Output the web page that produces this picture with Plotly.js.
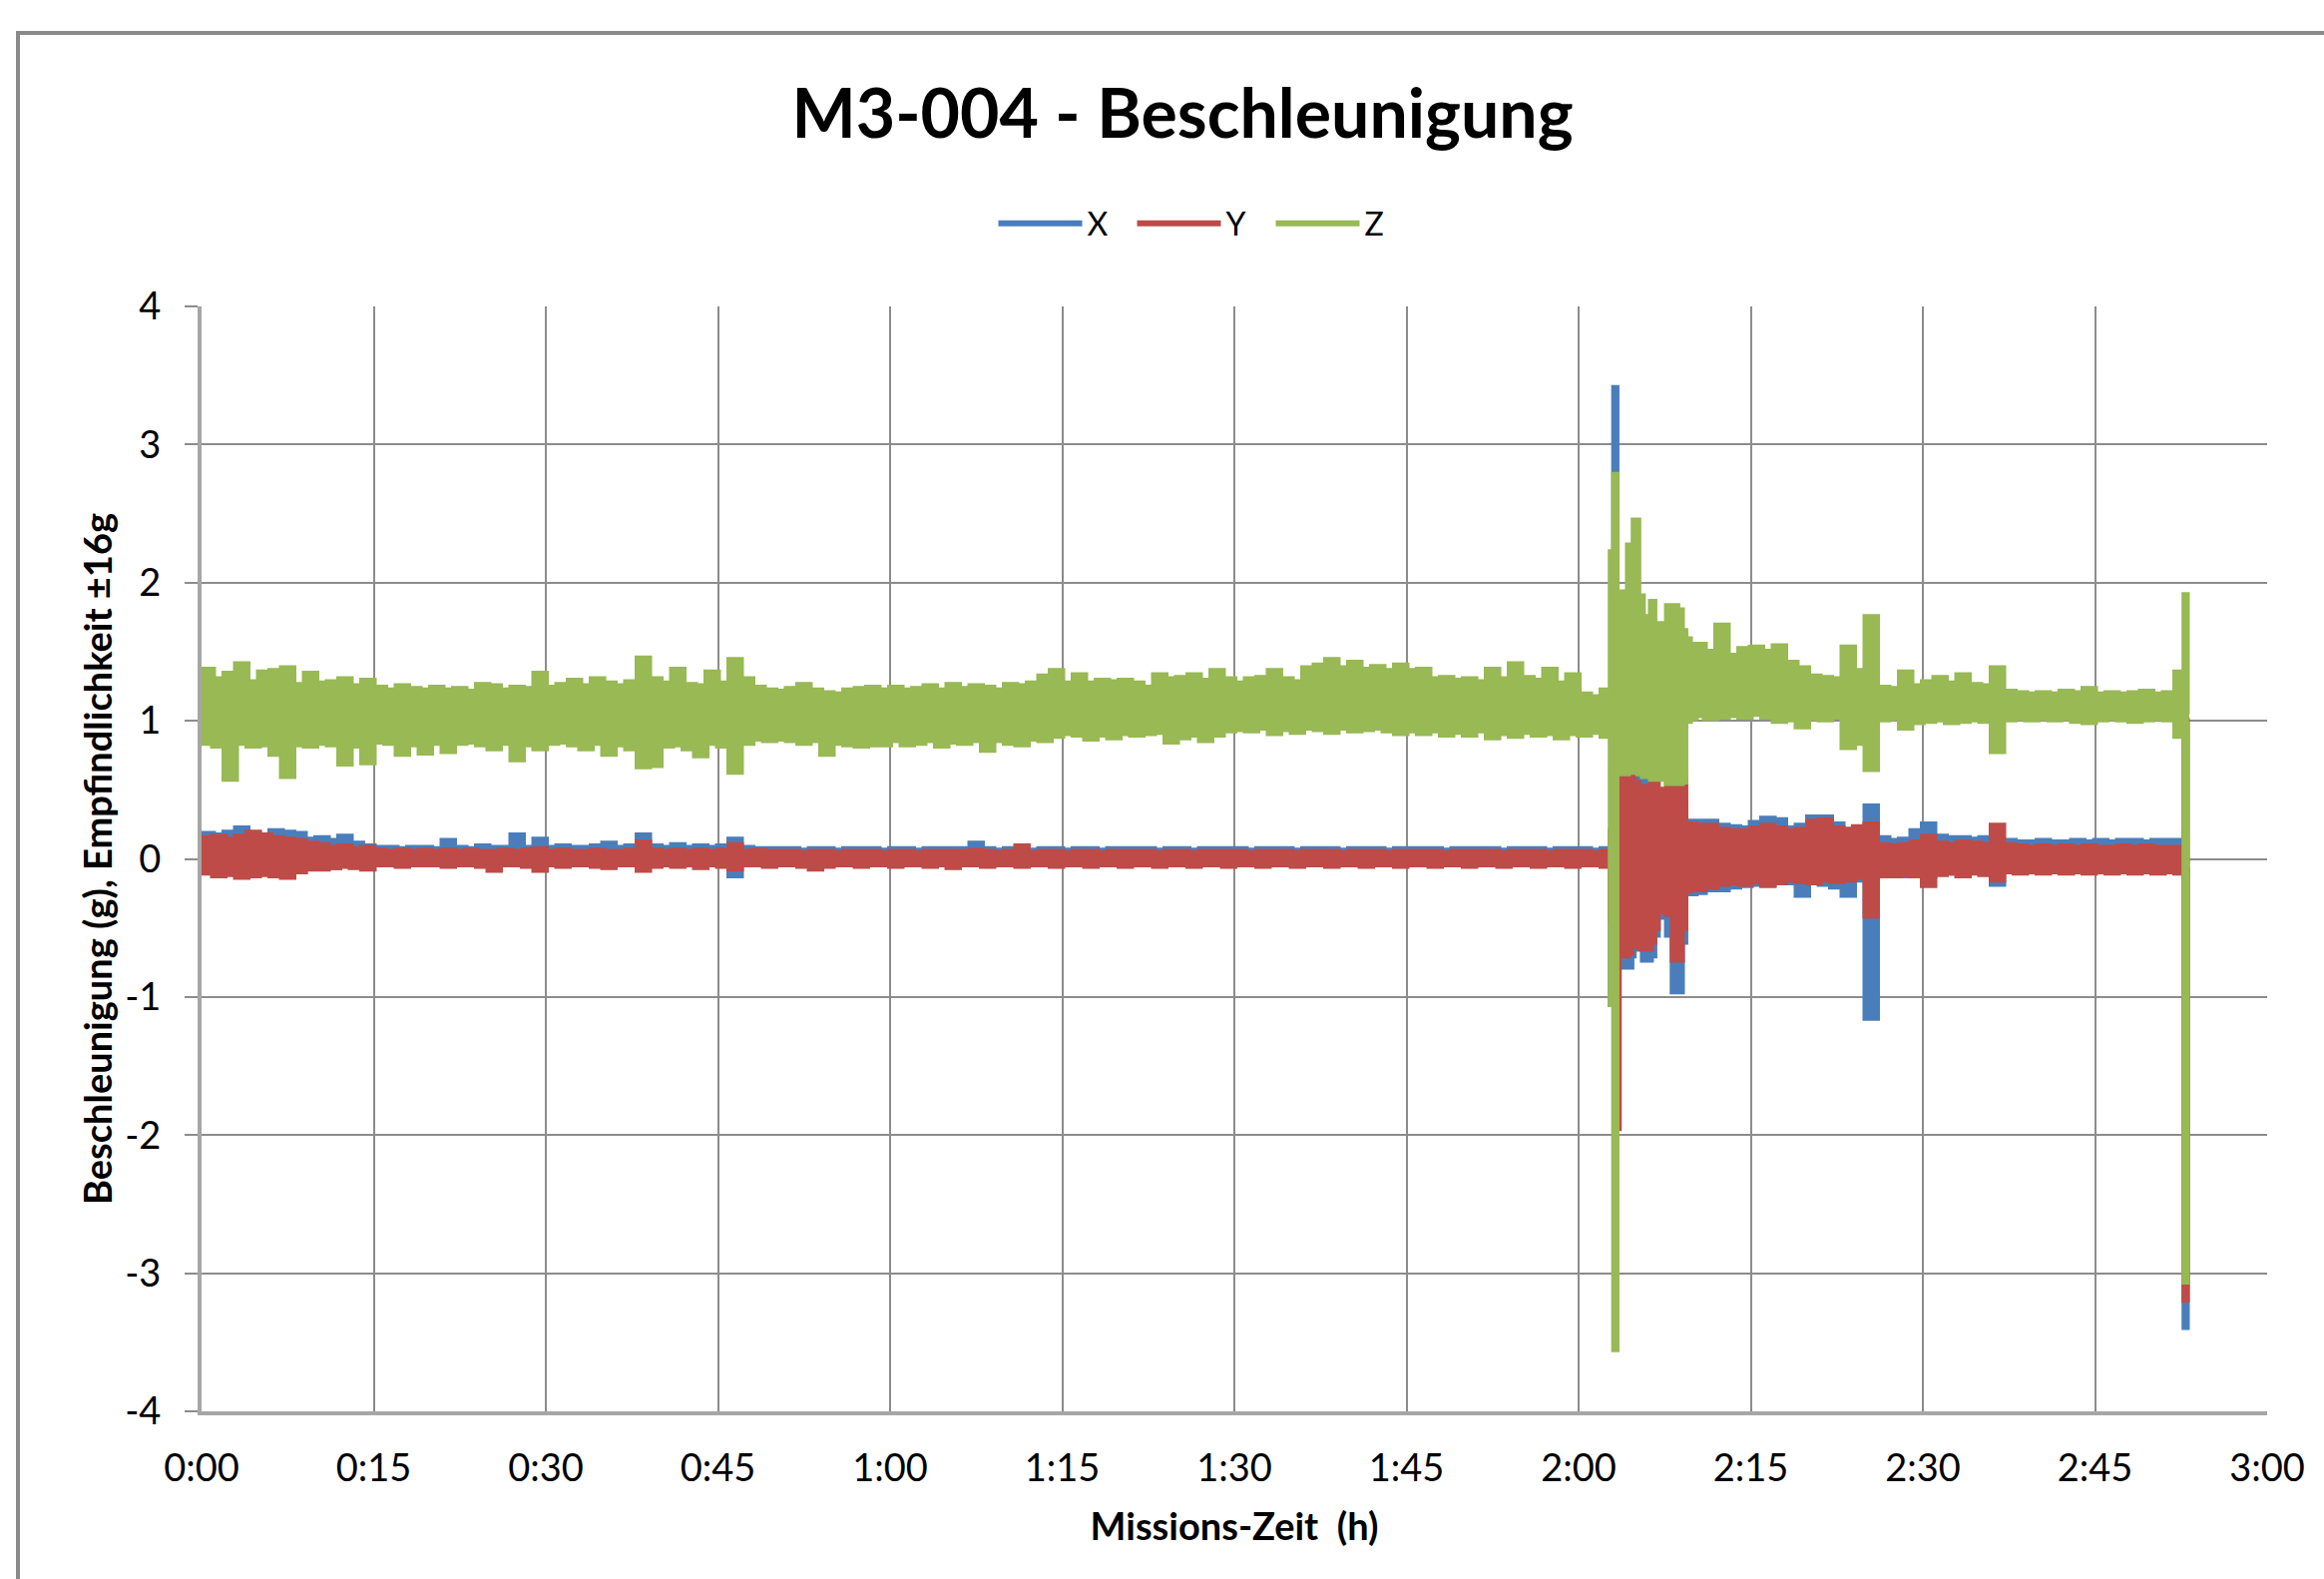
<!DOCTYPE html>
<html>
<head>
<meta charset="utf-8">
<script src="https://cdn.plot.ly/plotly-3.0.1.min.js"></script>
<style>
  html, body { margin: 0; padding: 0; background: #ffffff; }
  #chart { width: 2329px; height: 1582px; }
</style>
</head>
<body>
<div id="chart"></div>
<script>
// ---- Data ----
// Mission time in minutes; each series is given as its min/max envelope per sample.
const timeMin = [
  0,1,2,3,4,5,6,7,8,9,
  10,11,12,13,14,15,16,17,18,19,
  20,21,22,23,24,25,26,27,28,29,
  30,31,32,33,34,35,36,37,38,39,
  40,41,42,43,44,45,46,47,48,49,
  50,51,52,53,54,55,56,57,58,59,
  60,61,62,63,64,65,66,67,68,69,
  70,71,72,73,74,75,76,77,78,79,
  80,81,82,83,84,85,86,87,88,89,
  90,91,92,93,94,95,96,97,98,99,
  100,101,102,103,104,105,106,107,108,109,
  110,111,112,113,114,115,116,117,118,119,
  120,121,122,
  122.5,122.8,123.1,123.3,123.5,124.0,124.3,124.6,124.8,125.2,125.6,126.0,126.3,126.6,126.9,127.3,127.7,128.2,128.6,129.0,129.3,129.7,130.2,
  131,132,133,134,135,136,137,138,139,140,
  141,142,143,144,145,146,147,148,149,150,
  151,152,153,154,155,156,157,158,159,160,
  161,162,163,164,165,166,167,168,169,170,
  171,172,
  172.5,172.8,173.0,173.2
];

const xHigh = [
  0.18,0.17,0.19,0.22,0.18,0.17,0.20,0.19,0.18,0.14,
  0.15,0.13,0.16,0.11,0.09,0.08,0.08,0.07,0.08,0.08,
  0.07,0.13,0.08,0.07,0.09,0.08,0.08,0.17,0.08,0.14,
  0.08,0.09,0.08,0.08,0.09,0.11,0.08,0.09,0.17,0.09,
  0.08,0.10,0.08,0.09,0.08,0.09,0.14,0.08,0.07,0.07,
  0.07,0.07,0.06,0.07,0.07,0.06,0.07,0.07,0.07,0.06,
  0.07,0.07,0.06,0.07,0.07,0.07,0.07,0.11,0.07,0.06,
  0.07,0.07,0.06,0.07,0.07,0.06,0.07,0.07,0.06,0.07,
  0.07,0.07,0.07,0.06,0.07,0.07,0.06,0.07,0.07,0.07,
  0.07,0.06,0.07,0.07,0.07,0.06,0.07,0.07,0.07,0.06,
  0.07,0.07,0.07,0.06,0.07,0.07,0.07,0.07,0.06,0.07,
  0.07,0.07,0.07,0.06,0.07,0.07,0.07,0.06,0.07,0.07,
  0.07,0.06,0.07,
  0.07,0.07,3.41,0.59,0.59,0.59,0.59,0.55,0.59,0.58,0.58,0.56,0.55,0.50,0.46,0.46,0.46,0.50,0.48,0.40,0.27,0.27,0.27,
  0.27,0.24,0.23,0.22,0.26,0.29,0.28,0.22,0.24,0.30,
  0.30,0.25,0.21,0.20,0.38,0.15,0.13,0.14,0.20,0.25,
  0.16,0.15,0.15,0.14,0.15,0.13,0.13,0.12,0.12,0.13,
  0.12,0.12,0.13,0.12,0.13,0.12,0.13,0.13,0.12,0.13,
  0.13,0.13,
  0.13,0.20,0.20,0.20
];
const xLow = [
  -0.08,-0.09,-0.10,-0.09,-0.10,-0.08,-0.11,-0.10,-0.09,-0.06,
  -0.05,-0.06,-0.04,-0.05,-0.04,-0.02,-0.02,-0.02,-0.02,-0.02,
  -0.02,-0.02,-0.02,-0.02,-0.02,-0.02,-0.02,-0.02,-0.02,-0.02,
  -0.02,-0.02,-0.02,-0.02,-0.02,-0.02,-0.02,-0.02,-0.04,-0.02,
  -0.02,-0.02,-0.02,-0.02,-0.02,-0.02,-0.12,-0.02,-0.02,-0.02,
  -0.02,-0.02,-0.02,-0.02,-0.02,-0.02,-0.02,-0.02,-0.02,-0.02,
  -0.02,-0.02,-0.02,-0.02,-0.02,-0.02,-0.02,-0.02,-0.02,-0.02,
  -0.02,-0.02,-0.02,-0.02,-0.02,-0.02,-0.02,-0.02,-0.02,-0.02,
  -0.02,-0.02,-0.02,-0.02,-0.02,-0.02,-0.02,-0.02,-0.02,-0.02,
  -0.02,-0.02,-0.02,-0.02,-0.02,-0.02,-0.02,-0.02,-0.02,-0.02,
  -0.02,-0.02,-0.02,-0.02,-0.02,-0.02,-0.02,-0.02,-0.02,-0.02,
  -0.02,-0.02,-0.02,-0.02,-0.02,-0.02,-0.02,-0.02,-0.02,-0.02,
  -0.02,-0.02,-0.02,
  -0.02,-1.05,-0.70,-0.78,-0.78,-0.78,-0.78,-0.70,-0.65,-0.65,-0.73,-0.73,-0.70,-0.55,-0.40,-0.42,-0.55,-0.96,-0.96,-0.60,-0.25,-0.25,-0.24,
  -0.22,-0.22,-0.20,-0.19,-0.18,-0.18,-0.17,-0.17,-0.26,-0.16,
  -0.18,-0.20,-0.26,-0.15,-1.15,-0.12,-0.11,-0.12,-0.11,-0.12,
  -0.10,-0.10,-0.09,-0.09,-0.10,-0.18,-0.08,-0.08,-0.08,-0.08,
  -0.08,-0.08,-0.08,-0.08,-0.08,-0.08,-0.08,-0.08,-0.08,-0.08,
  -0.08,-0.08,
  -0.08,-3.39,0.00,0.00
];

const yHigh = [
  0.15,0.16,0.14,0.16,0.19,0.17,0.15,0.14,0.13,0.11,
  0.10,0.08,0.09,0.07,0.08,0.06,0.05,0.06,0.05,0.06,
  0.05,0.06,0.05,0.06,0.05,0.05,0.06,0.05,0.06,0.07,
  0.05,0.06,0.05,0.05,0.06,0.05,0.05,0.06,0.12,0.06,
  0.05,0.06,0.05,0.06,0.05,0.06,0.10,0.05,0.06,0.05,
  0.05,0.05,0.04,0.05,0.05,0.04,0.05,0.05,0.05,0.04,
  0.05,0.05,0.04,0.05,0.05,0.05,0.05,0.06,0.05,0.04,
  0.05,0.09,0.04,0.05,0.05,0.04,0.05,0.05,0.04,0.05,
  0.05,0.05,0.05,0.04,0.05,0.05,0.04,0.05,0.05,0.05,
  0.05,0.04,0.05,0.05,0.05,0.04,0.05,0.05,0.05,0.04,
  0.05,0.05,0.05,0.04,0.05,0.05,0.05,0.05,0.04,0.05,
  0.05,0.05,0.05,0.04,0.05,0.05,0.05,0.04,0.05,0.05,
  0.05,0.04,0.05,
  0.05,0.20,0.50,0.64,0.64,0.65,0.65,0.78,0.55,0.52,0.50,0.52,0.55,0.62,0.50,0.46,0.55,0.91,0.60,0.58,0.25,0.25,0.24,
  0.24,0.21,0.20,0.20,0.22,0.24,0.22,0.20,0.21,0.27,
  0.28,0.22,0.21,0.23,0.25,0.10,0.09,0.10,0.12,0.16,
  0.11,0.10,0.12,0.11,0.10,0.24,0.10,0.09,0.08,0.09,
  0.08,0.09,0.08,0.09,0.08,0.08,0.09,0.08,0.09,0.08,
  0.08,0.08,
  0.08,1.00,-0.02,-0.02
];
const yLow = [
  -0.10,-0.12,-0.11,-0.13,-0.12,-0.11,-0.12,-0.13,-0.09,-0.07,
  -0.07,-0.06,-0.05,-0.06,-0.07,-0.04,-0.04,-0.05,-0.04,-0.04,
  -0.04,-0.05,-0.04,-0.04,-0.05,-0.08,-0.04,-0.04,-0.05,-0.08,
  -0.04,-0.05,-0.04,-0.04,-0.05,-0.06,-0.04,-0.04,-0.08,-0.05,
  -0.04,-0.05,-0.04,-0.06,-0.04,-0.05,-0.07,-0.04,-0.04,-0.05,
  -0.04,-0.04,-0.05,-0.07,-0.05,-0.04,-0.04,-0.05,-0.04,-0.04,
  -0.05,-0.04,-0.04,-0.05,-0.04,-0.06,-0.04,-0.04,-0.05,-0.04,
  -0.04,-0.05,-0.04,-0.04,-0.05,-0.04,-0.04,-0.05,-0.04,-0.04,
  -0.05,-0.04,-0.04,-0.05,-0.04,-0.04,-0.05,-0.04,-0.04,-0.05,
  -0.04,-0.04,-0.05,-0.04,-0.04,-0.05,-0.04,-0.04,-0.05,-0.04,
  -0.04,-0.05,-0.04,-0.04,-0.05,-0.04,-0.04,-0.05,-0.04,-0.04,
  -0.05,-0.04,-0.04,-0.05,-0.04,-0.04,-0.05,-0.04,-0.04,-0.05,
  -0.04,-0.04,-0.05,
  -0.04,-0.45,-0.70,-1.95,-0.70,-0.70,-0.68,-0.62,-0.62,-0.64,-0.65,-0.65,-0.60,-0.50,-0.38,-0.38,-0.40,-0.73,-0.73,-0.50,-0.23,-0.22,-0.22,
  -0.20,-0.18,-0.17,-0.18,-0.16,-0.19,-0.17,-0.15,-0.16,-0.17,
  -0.15,-0.16,-0.15,-0.13,-0.41,-0.12,-0.12,-0.11,-0.12,-0.19,
  -0.11,-0.10,-0.12,-0.10,-0.11,-0.15,-0.09,-0.10,-0.09,-0.10,
  -0.09,-0.10,-0.09,-0.10,-0.09,-0.10,-0.09,-0.10,-0.09,-0.10,
  -0.09,-0.10,
  -0.10,-3.19,-0.06,-0.06
];

const zHigh = [
  1.37,1.30,1.34,1.41,1.28,1.35,1.36,1.38,1.26,1.34,
  1.27,1.28,1.30,1.25,1.29,1.24,1.22,1.25,1.23,1.22,
  1.24,1.22,1.23,1.21,1.26,1.25,1.22,1.24,1.23,1.34,
  1.24,1.26,1.29,1.25,1.30,1.27,1.25,1.28,1.45,1.30,
  1.27,1.37,1.26,1.25,1.35,1.27,1.44,1.30,1.24,1.22,
  1.21,1.23,1.26,1.22,1.20,1.19,1.22,1.23,1.24,1.22,
  1.24,1.22,1.23,1.25,1.22,1.26,1.23,1.25,1.24,1.22,
  1.26,1.25,1.27,1.32,1.36,1.27,1.33,1.27,1.29,1.28,
  1.29,1.27,1.24,1.33,1.30,1.31,1.33,1.29,1.36,1.30,
  1.27,1.30,1.31,1.36,1.30,1.28,1.38,1.40,1.44,1.38,
  1.42,1.37,1.39,1.36,1.40,1.36,1.37,1.30,1.31,1.29,
  1.30,1.28,1.37,1.30,1.41,1.31,1.29,1.37,1.27,1.33,
  1.19,1.17,1.22,
  1.20,2.22,2.78,1.93,1.93,1.93,2.27,2.00,2.45,1.90,1.75,1.75,1.86,1.65,1.70,1.62,1.83,1.83,1.80,1.65,1.59,1.49,1.55,
  1.50,1.69,1.47,1.52,1.53,1.50,1.54,1.42,1.38,1.32,
  1.31,1.30,1.53,1.36,1.75,1.24,1.23,1.35,1.25,1.28,
  1.31,1.27,1.33,1.26,1.25,1.38,1.21,1.20,1.19,1.20,
  1.19,1.21,1.20,1.23,1.19,1.20,1.19,1.20,1.21,1.19,
  1.20,1.35,
  1.35,1.91,1.05,1.05
];
const zLow = [
  0.84,0.82,0.58,0.84,0.82,0.83,0.76,0.60,0.83,0.82,
  0.84,0.83,0.69,0.82,0.70,0.85,0.84,0.76,0.83,0.77,
  0.84,0.78,0.84,0.85,0.83,0.80,0.84,0.72,0.83,0.80,
  0.84,0.85,0.83,0.80,0.84,0.76,0.83,0.80,0.67,0.68,
  0.82,0.83,0.80,0.75,0.84,0.82,0.63,0.84,0.87,0.86,
  0.87,0.86,0.84,0.86,0.76,0.84,0.83,0.82,0.83,0.83,
  0.86,0.83,0.84,0.86,0.82,0.85,0.84,0.86,0.79,0.86,
  0.84,0.83,0.87,0.86,0.89,0.91,0.90,0.87,0.90,0.88,
  0.91,0.90,0.91,0.92,0.85,0.88,0.90,0.86,0.90,0.93,
  0.94,0.93,0.95,0.91,0.94,0.92,0.95,0.94,0.92,0.95,
  0.93,0.94,0.95,0.93,0.91,0.93,0.91,0.93,0.90,0.92,
  0.90,0.93,0.88,0.91,0.89,0.92,0.90,0.91,0.88,0.91,
  0.90,0.92,0.89,
  0.90,-1.05,-3.55,0.62,0.65,0.62,0.65,0.66,0.63,0.62,0.60,0.62,0.58,0.60,0.58,0.60,0.55,0.58,0.55,0.56,1.00,1.02,1.04,
  1.02,1.03,1.04,1.03,1.05,1.03,1.00,1.01,0.96,1.02,
  1.01,1.03,0.81,0.84,0.65,1.01,1.02,0.95,0.99,1.00,
  1.01,0.99,1.00,1.01,1.00,0.78,1.01,1.02,1.01,1.02,
  1.01,1.02,1.00,0.99,1.01,1.02,1.01,1.00,1.01,1.02,
  1.01,0.89,
  0.89,-3.06,0.98,0.98
];

const seriesNames = ['X', 'Y', 'Z'];
const seriesColors = ['#4a7ebb', '#be4b48', '#98b954'];
const seriesLow = [xLow, yLow, zLow];
const seriesHigh = [xHigh, yHigh, zHigh];

const xTickVals = [0,15,30,45,60,75,90,105,120,135,150,165,180];
const xTickText = ['0:00','0:15','0:30','0:45','1:00','1:15','1:30','1:45','2:00','2:15','2:30','2:45','3:00'];
const yTickVals = [-4,-3,-2,-1,0,1,2,3,4];
const yTickText = ['-4','-3','-2','-1','0','1','2','3','4'];

// ---- Build traces: lower envelope line + upper envelope filled down to it ----
const FONT = "Lato, 'Open Sans', 'Liberation Sans', sans-serif";
const traces = [];
for (let i = 0; i < seriesNames.length; i++) {
  traces.push({
    x: timeMin, y: seriesLow[i], type: 'scatter', mode: 'lines',
    name: seriesNames[i], legendgroup: seriesNames[i], showlegend: true,
    line: { color: seriesColors[i], width: 6, shape: 'hv' },
    hoverinfo: 'skip'
  });
  traces.push({
    x: timeMin, y: seriesHigh[i], type: 'scatter', mode: 'lines',
    name: seriesNames[i], legendgroup: seriesNames[i], showlegend: false,
    fill: 'tonexty', fillcolor: seriesColors[i],
    line: { color: seriesColors[i], width: 6, shape: 'hv' },
    hoverinfo: 'skip'
  });
}

const W = 2329, H = 1582;
const mL = 202, mR = 57, mT = 307, mB = 168;
const pw = W - mL - mR, ph = H - mT - mB;

const layout = {
  width: W, height: H,
  margin: { l: mL, r: mR, t: mT, b: mB, pad: 0 },
  paper_bgcolor: '#ffffff', plot_bgcolor: '#ffffff',
  font: { family: FONT, color: '#000000' },
  title: {
    text: 'M3-004 - Beschleunigung',
    font: { family: FONT, size: 68, weight: 700, color: '#000000' },
    xref: 'container', yref: 'container',
    x: 1185 / W, y: 1 - 114 / H, xanchor: 'center', yanchor: 'middle'
  },
  showlegend: true,
  legend: {
    orientation: 'h', x: (1204 - mL) / pw, y: (mT + ph - 224) / ph,
    xanchor: 'center', yanchor: 'middle',
    font: { family: FONT, size: 32, color: '#000000' },
    itemwidth: 84, entrywidth: 40, entrywidthmode: 'pixels',
    bgcolor: 'rgba(0,0,0,0)'
  },
  xaxis: {
    range: [0, 180], tickmode: 'array', tickvals: xTickVals, ticktext: xTickText,
    showgrid: true, gridcolor: '#8c8c8c', gridwidth: 2,
    zeroline: false, showline: true, linecolor: '#a6a6a6', linewidth: 4,
    ticks: '', tickfont: { family: FONT, size: 38, color: '#000000' },
    ticklabelstandoff: 20,
    fixedrange: true,
    title: { text: 'Missions-Zeit  (h)', font: { family: FONT, size: 38, weight: 700, color: '#000000' }, standoff: 27 }
  },
  yaxis: {
    range: [-4, 4], tickmode: 'array', tickvals: yTickVals, ticktext: yTickText,
    showgrid: true, gridcolor: '#8c8c8c', gridwidth: 2,
    zeroline: false, showline: true, linecolor: '#a6a6a6', linewidth: 4,
    ticks: 'outside', ticklen: 13, tickwidth: 2, tickcolor: '#8c8c8c',
    tickfont: { family: FONT, size: 38, color: '#000000' },
    ticklabelstandoff: 16,
    fixedrange: true,
    title: { text: 'Beschleunigung (g), Empfindlichkeit ±16g', font: { family: FONT, size: 38, weight: 700, color: '#000000' }, standoff: 2 }
  },
  shapes: [{
    type: 'rect', xref: 'paper', yref: 'paper', layer: 'below',
    x0: (18 - mL) / pw, x1: (W + 20 - mL) / pw,
    y0: -(mB + 20) / ph, y1: (mT + ph - 33) / ph,
    line: { color: '#8a8a8a', width: 4 }, fillcolor: 'rgba(0,0,0,0)'
  }]
};

Plotly.newPlot('chart', traces, layout, { displayModeBar: false, staticPlot: true });
</script>
</body>
</html>
